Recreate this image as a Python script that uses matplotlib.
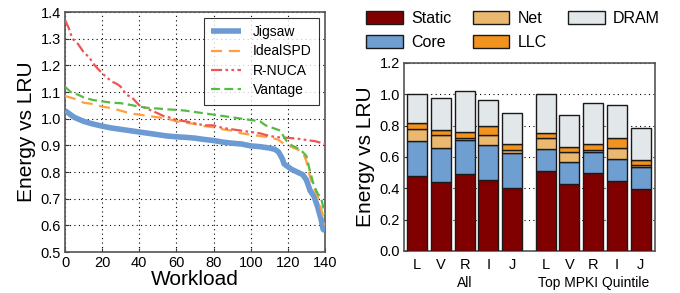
import numpy as np
import matplotlib
matplotlib.use('Agg')
import matplotlib.pyplot as plt

plt.rcParams['font.family'] = ['Liberation Sans', 'DejaVu Sans']

# ---- left panel: energy per workload (sorted)
jig_x = [0, 2, 5, 10, 15, 20, 25, 30, 35, 40, 45, 50, 55, 60, 65, 70, 75, 80, 85, 90, 95,
         100, 105, 110, 113, 115, 117, 118, 120, 122, 125, 128, 130, 131, 132, 134, 136, 138, 139, 140]
jig_y = [1.03, 1.02, 1.005, 0.99, 0.98, 0.972, 0.965, 0.96, 0.955, 0.95, 0.945, 0.94, 0.935,
         0.932, 0.93, 0.927, 0.922, 0.918, 0.912, 0.908, 0.905, 0.898, 0.895, 0.89, 0.885, 0.875,
         0.85, 0.83, 0.82, 0.81, 0.80, 0.79, 0.77, 0.75, 0.73, 0.71, 0.67, 0.62, 0.585, 0.58]

spd_x = [0, 5, 10, 15, 20, 25, 30, 35, 40, 45, 50, 55, 60, 65, 70, 75, 80, 85, 90, 95, 100,
         105, 110, 113, 115, 118, 120, 125, 128, 130, 132, 134, 136, 138, 140]
spd_y = [1.085, 1.075, 1.06, 1.055, 1.045, 1.04, 1.03, 1.02, 1.015, 1.01, 1.005, 1.0, 0.99,
         0.985, 0.98, 0.972, 0.968, 0.96, 0.955, 0.945, 0.94, 0.935, 0.93, 0.925, 0.92, 0.905,
         0.9, 0.885, 0.875, 0.84, 0.78, 0.74, 0.71, 0.66, 0.6]

rnuca_x = [0, 2, 4, 7, 10, 13, 16, 20, 25, 28, 30, 33, 36, 40, 45, 50, 53, 56, 60, 65, 70, 75,
           80, 85, 90, 95, 100, 105, 110, 115, 120, 125, 130, 135, 140]
rnuca_y = [1.37, 1.34, 1.30, 1.28, 1.25, 1.23, 1.20, 1.17, 1.14, 1.13, 1.12, 1.09, 1.08, 1.05,
           1.035, 1.02, 1.01, 1.005, 0.995, 0.99, 0.982, 0.975, 0.975, 0.965, 0.96, 0.955, 0.95,
           0.945, 0.935, 0.93, 0.928, 0.925, 0.92, 0.915, 0.905]

van_x = [0, 3, 7, 10, 15, 20, 25, 30, 35, 40, 45, 50, 55, 60, 65, 70, 75, 80, 85, 90, 95, 100,
         105, 108, 112, 116, 118, 120, 122, 125, 128, 130, 132, 134, 136, 138, 140]
van_y = [1.12, 1.10, 1.09, 1.08, 1.07, 1.065, 1.06, 1.058, 1.052, 1.045, 1.04, 1.038, 1.035,
         1.033, 1.03, 1.025, 1.02, 1.015, 1.01, 1.005, 1.0, 0.995, 0.99, 0.975, 0.965, 0.955,
         0.93, 0.91, 0.90, 0.89, 0.875, 0.86, 0.80, 0.75, 0.72, 0.70, 0.64]

# ---- right panel: energy breakdown
bar_labels = ['L', 'V', 'R', 'I', 'J'] * 2
groups = ['All', 'Top MPKI Quintile']
static = [0.48, 0.44, 0.49, 0.455, 0.405, 0.51, 0.425, 0.495, 0.45, 0.395]
core = [0.225, 0.22, 0.22, 0.22, 0.22, 0.14, 0.14, 0.14, 0.14, 0.14]
net = [0.075, 0.08, 0.01, 0.065, 0.02, 0.07, 0.07, 0.01, 0.065, 0.015]
llc = [0.035, 0.035, 0.04, 0.055, 0.035, 0.035, 0.03, 0.035, 0.065, 0.03]
dram = [0.185, 0.20, 0.26, 0.17, 0.20, 0.245, 0.205, 0.265, 0.21, 0.205]

fig = plt.figure(figsize=(6.8, 2.93), dpi=100)
W, H = 680.0, 293.0
ax1 = fig.add_axes([65 / W, 1 - 252 / H, 260 / W, 240 / H])
ax2 = fig.add_axes([404 / W, 1 - 251 / H, 251 / W, 188 / H])

spine_col = '#555555'
for ax in (ax1, ax2):
    for s in ax.spines.values():
        s.set_color(spine_col)
        s.set_linewidth(1.2)
    ax.tick_params(direction='in', length=3, width=0.8, color='#333333', labelsize=10.5, pad=3)

# left
ax1.plot(jig_x, jig_y, color='#6b9bd2', lw=4, solid_capstyle='butt', label='Jigsaw', zorder=3)
ax1.plot(spd_x, spd_y, color='#ffa040', lw=1.6, dashes=(5, 3), label='IdealSPD', zorder=4)
ax1.plot(rnuca_x, rnuca_y, color='#ee5555', lw=1.6, dashes=(5, 1.5, 1.2, 1.5, 1.2, 1.5),
         label='R-NUCA', zorder=4)
ax1.plot(van_x, van_y, color='#55bb44', lw=1.6, dashes=(4, 2), label='Vantage', zorder=5)
ax1.set_xlim(0, 140)
ax1.set_ylim(0.5, 1.4)
ax1.set_xticks(np.arange(0, 141, 20))
ax1.set_yticks(np.arange(0.5, 1.41, 0.1))
ax1.set_yticklabels(['%.1f' % v for v in np.arange(0.5, 1.41, 0.1)])
ax1.grid(True, color='black', linestyle=(0, (1, 3)), lw=0.8)
ax1.set_xlabel('Workload', fontsize=15, labelpad=0)
ax1.set_ylabel('Energy vs LRU', fontsize=15, labelpad=3)
leg = ax1.legend(loc='upper right', fontsize=10, frameon=True, fancybox=False,
                 edgecolor='black', handlelength=2.1, borderpad=0.55, labelspacing=0.38,
                 handletextpad=0.9, borderaxespad=0.4)
leg.get_frame().set_linewidth(0.8)

# right
pos = np.array([0, 1, 2, 3, 4, 5.4, 6.4, 7.4, 8.4, 9.4])
colors = ['#800000', '#6f9fd1', '#eab96f', '#f29320', '#e2e7ea']
names = ['Static', 'Core', 'Net', 'LLC', 'DRAM']
bottom = np.zeros(len(pos))
handles = []
for vals, c, n in zip([static, core, net, llc, dram], colors, names):
    b = ax2.bar(pos, vals, 0.84, bottom=bottom, color=c, edgecolor='#1a1a1a', lw=1.0,
                label=n, zorder=3)
    handles.append(b)
    bottom += np.array(vals)
ax2.set_xlim(-0.55, 10.0)
ax2.set_ylim(0, 1.2)
ax2.set_yticks(np.arange(0, 1.21, 0.2))
ax2.set_yticklabels(['%.1f' % v for v in np.arange(0, 1.21, 0.2)])
ax2.set_xticks(pos)
ax2.set_xticklabels(bar_labels, fontsize=10.5)
ax2.tick_params(axis='x', length=0, pad=5)
ax2.yaxis.grid(True, color='black', linestyle=(0, (1, 3)), lw=0.8, zorder=0)
ax2.set_axisbelow(True)
ax2.set_ylabel('Energy vs LRU', fontsize=15, labelpad=3)
ax2.text(2, -0.205, groups[0], ha='center', va='center', fontsize=10)
ax2.text(7.4, -0.205, groups[1], ha='center', va='center', fontsize=10)

fig.legend(handles, names, ncol=3, loc='upper left', bbox_to_anchor=(355 / W, 1.0),
           fontsize=11.5, frameon=False, handlelength=2.3, handleheight=0.9,
           columnspacing=1.35, labelspacing=0.55, handletextpad=0.5, borderaxespad=0.3)

fig.savefig('out.png', dpi=100)
